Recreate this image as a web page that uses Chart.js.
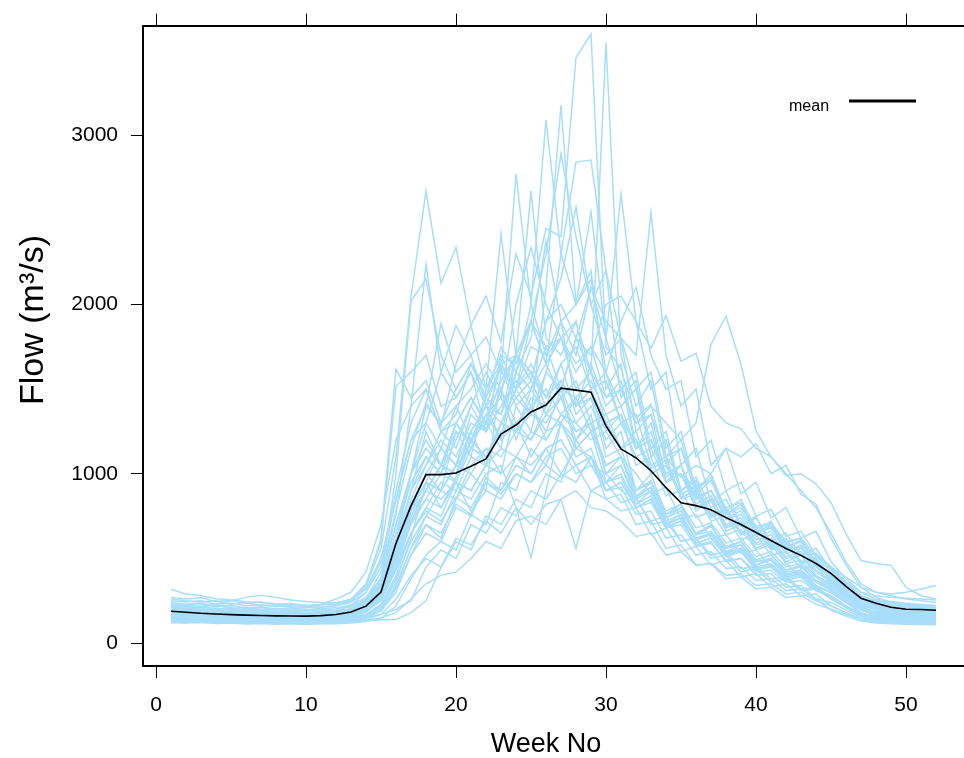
<!DOCTYPE html>
<html>
<head>
<meta charset="utf-8">
<title>Weekly flow</title>
<script src="https://cdn.jsdelivr.net/npm/chart.js"></script>
<style>
  html, body { margin: 0; padding: 0; background: #fff; overflow: hidden; width: 964px; height: 758px; }
  canvas { display: block; }
</style>
</head>
<body>
<canvas id="flowChart" width="1000" height="758"></canvas>
<script>
// week numbers along the x axis
const weeks = [1,2,3,4,5,6,7,8,9,10,11,12,13,14,15,16,17,18,19,20,21,22,23,24,25,26,
  27,28,29,30,31,32,33,34,35,36,37,38,39,40,41,42,43,44,45,46,47,48,49,50,51,52];

const xTicks = [0, 10, 20, 30, 40, 50];
const yTicks = [0, 1000, 2000, 3000];

// weekly mean flow (black line)
const meanFlow = [188,182,176,172,168,165,163,161,160,159,162,169,184,
  218,302,590,810,995,995,1005,1045,1088,1235,1288,1365,1406,
  1506,1494,1482,1282,1147,1094,1018,918,829,812,788,741,700,
  653,606,559,518,470,412,335,265,235,212,200,198,194];

// one line per year, weeks 1..52
const year01 = [210,204,198,205,192,186,181,178,184,176,172,186,198,
  262,420,780,1150,1420,1280,1650,1880,2050,1780,2300,2050,2450,
  2400,3459,3596,1750,1620,1330,1410,1060,1150,880,960,760,820,
  650,700,560,610,470,400,320,262,232,215,205,200,195];
const year02 = [180,176,168,170,160,165,155,158,150,154,152,160,175,
  220,330,560,900,1250,1050,1300,1180,1450,1620,1400,1500,1750,
  1500,1800,1600,3547,1700,1400,1550,1100,1200,900,1000,780,850,
  660,720,560,600,470,410,330,260,220,200,190,185,180];
const year03 = [150,158,142,148,138,142,135,140,132,138,132,140,145,
  170,220,360,620,950,800,980,1250,1050,1300,1500,1350,2100,
  3178,2000,2200,1500,1650,1150,1300,950,1050,780,850,660,700,
  560,600,480,520,400,350,280,210,180,165,155,150,146];
const year04 = [240,230,235,215,222,205,210,196,200,190,198,200,220,
  300,480,900,1300,1500,1250,1350,1650,1450,1750,1600,2000,3090,
  2300,2000,2150,1600,1400,1500,1100,1200,900,980,800,850,690,
  740,600,650,520,560,430,350,280,250,235,225,220,215];
const year05 = [130,126,132,122,125,119,123,117,120,116,121,120,128,
  150,190,300,520,700,620,850,1000,900,1600,2770,2000,1700,
  1900,1400,1500,1150,1250,900,1000,760,820,640,700,540,580,
  460,500,400,430,340,300,240,180,150,138,132,128,125];
const year06 = [200,194,190,200,182,188,178,184,175,180,176,182,196,
  250,380,700,1000,1200,1050,1300,1450,1300,1550,1700,2670,1800,
  1700,1900,1500,1600,1300,1350,1050,1100,860,900,740,780,640,
  680,550,580,470,500,380,300,240,210,198,190,186,182];
const year07 = [170,165,172,158,164,154,160,150,156,148,153,155,165,
  200,280,500,800,1000,900,1250,1100,1500,2418,1700,1900,1650,
  1800,1500,1600,1300,1350,1050,1100,870,900,740,780,640,670,
  550,580,470,490,390,340,270,210,180,168,160,156,152];
const year08 = [260,250,242,250,230,238,220,226,212,218,212,222,245,
  340,560,1100,2047,2670,2125,2337,1876,1500,1650,1450,1550,1350,
  1450,1200,1300,1000,1100,860,950,740,800,640,690,560,600,
  490,520,430,460,370,330,270,230,215,205,200,196,192];
const year09 = [190,184,192,176,182,170,176,166,172,164,170,172,186,
  240,390,760,1400,2240,1600,1450,1600,1250,1500,1200,1400,1250,
  1500,1150,1250,950,1050,820,900,700,760,610,650,530,560,
  460,490,400,420,340,300,240,200,185,178,172,168,165];
const year10 = [160,155,152,158,148,154,145,150,143,148,144,150,162,
  210,360,1000,2020,2150,1700,1500,1650,1450,1350,1700,1600,1450,
  1650,1350,1450,1100,1150,900,960,760,800,650,690,570,600,
  490,520,430,450,370,320,250,195,170,160,155,150,148];
const year11 = [220,212,218,200,208,192,198,185,190,180,186,190,205,
  250,330,520,750,900,1050,1000,1200,1100,1300,1250,1500,1350,
  1550,1400,1650,1400,1500,1300,1400,1300,1200,1300,1765,1929,1647,
  1253,1100,988,1000,941,829,647,488,470,459,329,280,260];
const year12 = [200,195,190,198,183,188,178,184,174,180,174,180,192,
  230,300,450,650,800,950,900,1100,1050,1300,1450,1350,1600,
  1500,1800,1700,2000,2050,1900,1741,1935,1665,1712,1400,1300,1265,
  1150,1100,1000,900,800,650,480,350,300,280,260,250,240];
const year13 = [175,170,178,162,168,158,163,154,158,151,155,158,170,
  210,300,520,820,1000,1150,1050,1350,1250,1700,1500,1900,1650,
  2300,2841,2853,2200,1800,1500,1600,1150,1250,900,980,760,820,
  640,690,540,580,460,400,310,240,205,190,182,176,172];
const year14 = [145,140,148,135,140,131,136,129,133,127,131,132,140,
  165,210,330,560,750,900,850,1050,1150,1000,1400,1250,1600,
  1900,1700,2100,1800,2653,1900,1500,1600,1050,1150,830,900,690,
  750,570,620,470,500,360,280,200,165,150,142,138,135];
const year15 = [230,222,216,225,205,212,196,203,190,196,190,198,215,
  260,350,600,900,1100,1000,1200,1400,1250,1500,1700,1550,1900,
  2000,1800,2100,1900,1800,1700,2543,1700,1400,1500,1050,1150,880,
  950,740,800,620,660,480,380,300,260,245,235,228,222];
const year16 = [185,180,188,172,178,166,172,162,166,158,163,166,180,
  225,330,600,900,1050,1250,1150,1400,1600,1450,2000,2337,2000,
  1800,1900,1600,1450,1550,1150,1250,950,1000,800,850,690,720,
  590,620,510,540,430,370,290,225,195,185,178,174,170];
const year17 = [155,150,147,154,142,146,138,142,136,140,136,141,152,
  185,260,450,720,900,1050,950,1200,1300,1150,1600,1800,2376,
  1900,2000,2547,1800,1500,1600,1150,1250,900,960,760,800,650,
  680,560,590,480,500,380,300,220,180,165,158,154,150];
const year18 = [210,204,212,194,200,186,192,180,186,176,182,186,202,
  250,360,650,950,1100,1000,1300,1450,1300,1650,1700,1550,1900,
  2155,2576,2000,1700,1800,1250,1350,980,1050,820,870,700,740,
  610,640,530,560,450,390,310,250,220,208,200,195,190];
const year19 = [165,160,156,162,150,155,146,150,144,148,145,150,162,
  195,270,480,750,900,1050,1000,1250,1400,1200,1700,1900,2300,
  2890,2400,2000,2200,1450,1550,1100,1200,880,930,750,790,640,
  670,550,580,470,490,370,290,215,180,168,160,156,152];
const year20 = [195,190,185,192,178,184,173,178,170,175,170,176,190,
  230,320,550,800,950,1150,1050,1250,1400,1300,1500,1750,1700,
  1800,1650,1750,1600,1900,2102,1700,1500,1550,1100,1200,900,950,
  750,790,630,660,520,450,360,280,240,225,215,208,200];
const year21 = [140,136,144,132,137,128,132,126,130,124,128,128,134,
  150,170,200,250,450,550,500,700,650,800,750,900,850,
  1000,1150,1100,950,1000,820,870,690,720,590,620,510,540,
  430,450,370,390,310,270,210,160,140,132,128,125,122];
const year22 = [125,122,128,118,122,116,119,114,117,113,116,117,123,
  140,170,260,400,500,450,620,580,720,650,800,700,820,
  850,560,900,850,780,800,640,680,540,570,460,490,390,
  410,330,350,280,290,220,180,140,125,120,118,116,114];
const year23 = [150,146,143,150,138,143,135,140,133,137,133,137,146,
  170,220,380,600,750,700,900,850,1000,1050,800,506,900,
  1300,1150,1250,1050,1100,860,920,720,760,610,640,520,550,
  440,460,380,400,320,280,220,170,150,142,138,135,132];
const year24 = [270,260,268,245,252,236,242,228,234,222,228,235,260,
  350,600,1518,1600,1700,1400,1450,1600,1400,1650,1500,1600,1400,
  1500,1300,1400,1200,1300,1100,1150,950,1000,850,900,760,800,
  680,700,590,620,510,450,360,300,280,270,265,260,255];
const year25 = [318,290,280,262,255,244,240,232,228,222,226,230,250,
  330,620,1618,1450,1550,1300,1400,1200,1350,1450,1250,1350,1300,
  1450,1250,1300,1050,1100,900,950,780,820,680,710,590,620,
  510,540,450,470,390,340,270,230,215,205,200,196,192];
const year26 = [200,205,215,230,250,270,282,270,255,245,240,238,250,
  320,500,850,1200,1300,1150,1400,1500,1650,1500,1700,1600,1450,
  1550,1400,1500,1300,1350,1150,1200,1000,1050,860,900,740,780,
  650,680,570,600,490,430,340,270,240,225,218,212,206];
const year27 = [220,215,210,206,202,200,198,196,200,210,230,260,300,
  420,700,1200,1400,1500,1250,1300,1150,1350,1200,1300,1100,1250,
  1300,1100,1150,900,950,800,850,680,720,590,620,510,540,
  450,470,390,410,330,300,240,200,185,178,172,168,165];
const year28 = [135,131,136,127,130,124,127,122,125,121,124,124,128,
  132,136,140,180,250,447,600,550,750,700,850,800,1000,
  950,1200,1050,1000,900,850,720,750,600,620,500,520,420,
  440,360,380,310,320,260,210,160,140,130,125,122,120];
const year29 = [175,170,178,163,168,158,162,154,158,152,156,158,168,
  200,280,500,780,950,900,1050,1150,1100,1250,1300,1200,1400,
  1500,1450,1550,1350,1400,1150,1200,950,1000,800,840,680,710,
  580,600,500,520,420,360,280,210,180,170,164,160,156];
const year30 = [150,146,143,149,139,143,136,140,134,138,134,138,146,
  170,230,400,650,800,750,950,900,1050,1150,1100,1250,1200,
  1350,1300,1200,1250,1100,1000,880,920,730,760,620,640,530,
  550,450,470,390,400,310,240,180,155,146,140,137,134];
const year31 = [128,125,130,121,124,119,122,117,120,116,119,119,124,
  135,150,180,260,350,400,420,500,600,560,723,750,700,
  850,900,800,780,720,630,650,520,540,460,470,400,410,
  340,350,290,300,250,220,180,140,128,122,119,117,115];
const year32 = [190,184,180,188,173,178,168,173,165,170,166,172,184,
  220,300,540,850,1050,1200,1100,1300,1250,1400,1550,1400,1500,
  1350,1450,1250,1300,1150,1200,1000,1050,860,900,750,780,650,
  680,560,590,480,500,380,300,230,200,190,184,180,176];
const year33 = [205,198,193,200,186,192,180,186,176,182,177,184,200,
  240,340,650,1000,1300,1600,1876,1700,1808,1600,1500,1650,1450,
  1550,1400,1450,1250,1350,1150,1200,1000,1050,850,900,730,760,
  630,660,550,570,470,410,330,260,228,215,207,202,198];
const year34 = [165,160,157,164,151,156,147,152,145,150,145,150,160,
  190,260,450,700,850,1000,950,1150,1100,1300,1250,1450,1400,
  1650,1750,1500,1550,1300,1200,1030,1080,850,880,720,750,610,
  640,520,540,440,460,340,260,195,165,155,150,147,144];
const year35 = [180,175,171,178,165,170,161,166,158,162,158,163,175,
  210,290,500,780,950,900,1050,1000,1150,1100,1250,1200,1350,
  1300,1450,1250,1300,1150,1200,1050,1100,980,1050,1000,1150,1100,
  1176,1000,1050,880,820,620,460,330,270,240,225,215,208];
const year36 = [230,225,233,216,222,208,214,202,208,198,204,208,225,
  270,380,700,1000,1150,1050,1250,1200,1400,1350,1600,1500,1650,
  1450,1550,1300,1350,1150,1250,1000,1050,880,920,750,800,650,
  680,580,600,520,530,450,390,330,300,290,300,320,340];
const year37 = [120,118,122,115,118,113,116,112,114,111,114,114,118,
  128,145,220,380,520,600,550,760,700,950,900,1150,1050,
  1300,1200,1350,1000,1050,850,900,700,740,580,600,480,500,
  400,410,330,340,260,195,160,130,118,114,112,110,108];
const year38 = [140,137,142,133,136,129,132,127,130,125,128,129,136,
  155,190,320,520,650,600,800,750,950,900,1050,1000,1150,
  1200,1050,1100,850,880,700,720,560,580,460,470,380,390,
  320,330,270,280,230,200,170,140,128,124,121,119,117];
const year39 = [185,180,188,173,178,168,172,164,168,162,166,170,182,
  220,320,600,1000,1400,1888,1600,1700,1400,1500,1300,1400,1200,
  1350,1250,1300,1050,1100,870,920,740,780,640,660,560,580,
  480,500,420,430,360,310,250,200,180,172,166,162,158];
const year40 = [250,242,250,230,236,221,226,215,220,210,214,220,240,
  300,450,850,1200,1400,1300,1500,1650,1500,1700,1650,1900,1750,
  1800,1600,1750,1450,1500,1300,1350,1100,1150,930,960,800,830,
  690,710,600,620,510,440,350,280,250,238,230,225,220];
const year41 = [160,156,162,150,154,146,150,143,146,141,144,147,156,
  185,250,430,650,780,720,860,800,950,880,1000,950,1050,
  980,1050,900,950,830,860,700,720,600,620,520,540,440,
  450,380,390,320,330,265,215,165,148,142,138,135,132];
const year42 = [200,195,203,187,192,181,186,177,182,174,178,182,195,
  230,310,520,780,900,850,950,780,900,850,1000,950,1100,
  1150,1000,1050,900,950,800,850,700,740,620,650,540,560,
  480,490,410,420,360,320,250,200,185,178,172,168,164];
const year43 = [145,141,138,144,134,138,131,135,129,133,129,133,141,
  160,200,340,560,700,650,820,760,980,900,1100,1000,1150,
  1000,950,1100,900,920,760,780,620,640,520,540,440,450,
  370,380,310,320,260,240,195,150,135,130,127,124,122];
const year44 = [175,171,167,173,161,166,157,162,154,158,154,159,170,
  200,280,480,720,850,800,950,900,1050,1000,1100,1050,1150,
  1200,1050,1100,950,980,800,830,680,700,570,590,490,500,
  420,430,360,370,310,280,220,175,160,155,150,147,144];

const years = [year01, year02, year03, year04, year05, year06, year07, year08, year09, year10,
  year11, year12, year13, year14, year15, year16, year17, year18, year19, year20,
  year21, year22, year23, year24, year25, year26, year27, year28, year29, year30,
  year31, year32, year33, year34, year35, year36, year37, year38, year39, year40,
  year41, year42, year43, year44];

const toPoints = vals => weeks.map((w, i) => ({ x: w, y: vals[i] }));

const datasets = [{
  label: "mean",
  data: toPoints(meanFlow),
  borderColor: "#000",
  borderWidth: 1.6,
  pointRadius: 0,
  tension: 0
}];
years.forEach((vals, i) => {
  datasets.push({
    label: "year " + (i + 1),
    data: toPoints(vals),
    borderColor: "rgb(168,222,250)",
    borderWidth: 1.5,
    pointRadius: 0,
    tension: 0
  });
});

const FONT = "'Liberation Sans', Arial, Helvetica, sans-serif";

// axis titles and the little key in the top right corner
const decorations = {
  id: "decorations",
  afterDraw(chart) {
    const c = chart.ctx;
    c.save();
    c.fillStyle = "#000";
    c.font = "34px " + FONT;
    c.textAlign = "center";
    c.textBaseline = "middle";
    c.translate(34, 320);
    c.rotate(-Math.PI / 2);
    c.fillText("Flow (m³/s)", 0, 0);
    c.restore();

    c.save();
    c.fillStyle = "#000";
    c.font = "27px " + FONT;
    c.textAlign = "center";
    c.textBaseline = "alphabetic";
    c.fillText("Week No", 546, 752);

    c.font = "16px " + FONT;
    c.textAlign = "left";
    c.fillText("mean", 789, 111);
    c.strokeStyle = "#000";
    c.lineWidth = 3;
    c.beginPath();
    c.moveTo(849, 101);
    c.lineTo(916, 101);
    c.stroke();
    c.restore();
  }
};

const tickMarks = { display: true, drawOnChartArea: false, drawTicks: true, tickLength: 12, color: "#000", lineWidth: 1 };
const frame = { display: true, color: "#000", width: 2 };
const plain = v => String(v);

// plot box runs past the right edge of the window, as in the original
const X_MIN = -0.867, X_MAX = 55.6;

new Chart(document.getElementById("flowChart"), {
  type: "line",
  data: { datasets },
  options: {
    responsive: false,
    animation: false,
    devicePixelRatio: 1,
    layout: { padding: { left: 0, right: 10, top: 0, bottom: 0 } },
    plugins: { legend: { display: false }, tooltip: { enabled: false } },
    scales: {
      x: {
        type: "linear",
        position: "bottom",
        min: X_MIN,
        max: X_MAX,
        afterBuildTicks: s => { s.ticks = xTicks.map(v => ({ value: v })); },
        afterFit: s => { s.height = 92; },
        ticks: { font: { family: FONT, size: 21 }, color: "#000", padding: 15, maxRotation: 0, autoSkip: false, callback: plain },
        grid: tickMarks,
        border: frame
      },
      xTop: {
        type: "linear",
        position: "top",
        min: X_MIN,
        max: X_MAX,
        afterBuildTicks: s => { s.ticks = xTicks.map(v => ({ value: v })); },
        afterFit: s => { s.height = 23; },
        ticks: { display: false },
        grid: tickMarks,
        border: frame
      },
      y: {
        type: "linear",
        position: "left",
        min: -135.3,
        max: 3647,
        afterBuildTicks: s => { s.ticks = yTicks.map(v => ({ value: v })); },
        afterFit: s => { s.width = 143; },
        ticks: { font: { family: FONT, size: 21 }, color: "#000", padding: 13, callback: plain },
        grid: tickMarks,
        border: frame
      }
    }
  },
  plugins: [decorations]
});
</script>
</body>
</html>
